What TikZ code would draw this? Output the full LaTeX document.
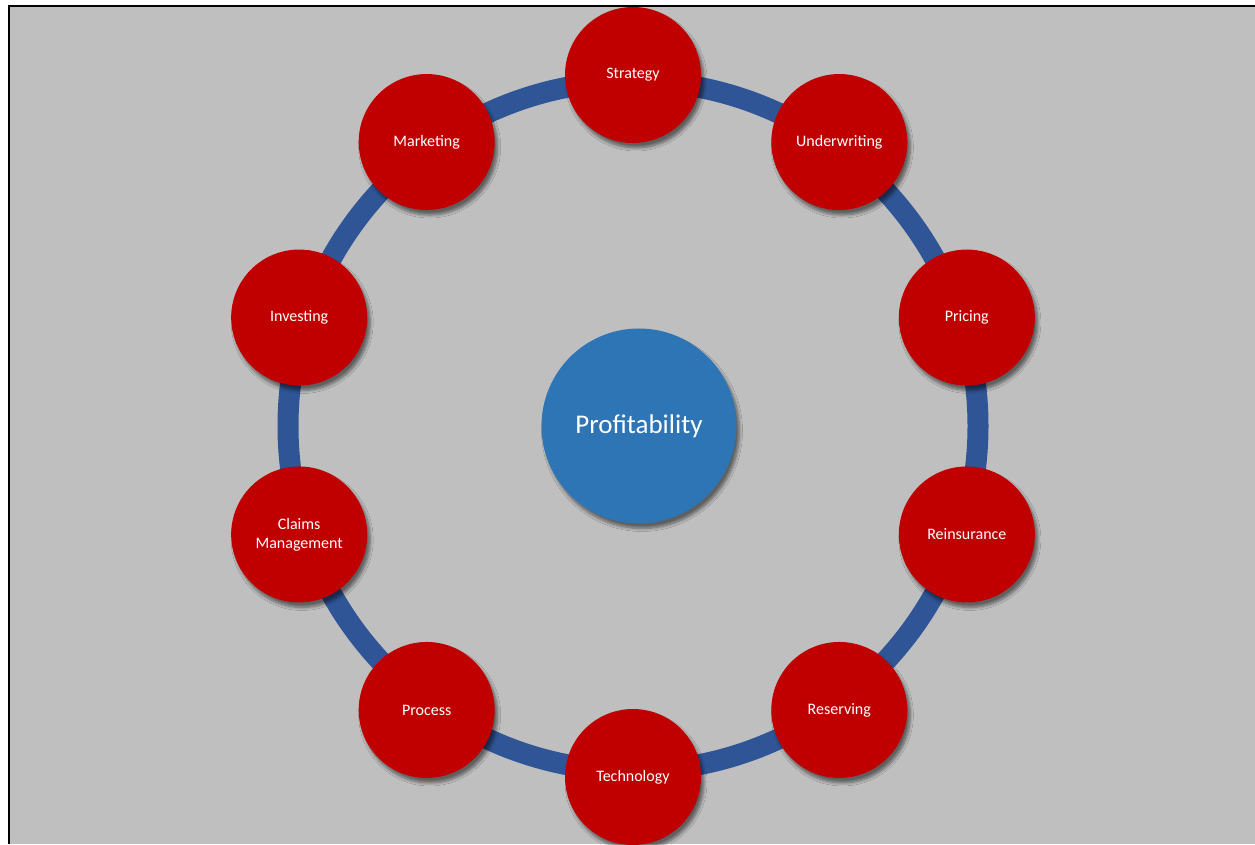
\documentclass[tikz,border=0pt]{standalone}
\usepackage{fontspec}
\setmainfont{Carlito}
\usetikzlibrary{calc,shadows.blur}
\definecolor{bggray}{HTML}{BFBFBF}
\definecolor{ringblue}{HTML}{2F5597}
\definecolor{hubblue}{HTML}{2E75B6}
\definecolor{nodered}{HTML}{C00000}
\tikzset{
  softshadow/.style={blur shadow={shadow xshift=3pt, shadow yshift=-5pt, shadow blur radius=3pt, shadow blur steps=6, shadow opacity=50}},
  topic/.style={circle, fill=nodered, minimum size=136pt, inner sep=0pt,
    text=white, font=\fontsize{16}{19}\selectfont, align=center, softshadow},
  hub/.style={circle, fill=hubblue, minimum size=195pt, inner sep=0pt,
    text=white, font=\fontsize{27}{32}\selectfont, softshadow},
  ring/.style={draw=ringblue, line width=21pt},
  frame/.style={draw=black, line width=2pt}
}
\begin{document}
\begin{tikzpicture}[x=1pt,y=1pt]
\useasboundingbox (0,0) rectangle (1255,844);
\fill[white] (0,0) rectangle (1255,844);
\fill[bggray] (9,0) rectangle (1255,838);
\draw[frame] (9,0) -- (9,838) -- (1255,838);
\coordinate (c) at (633,418);
\draw[ring] (c) circle[radius=345];
\node[hub] (hub) at (639,418) {Profitability};
\node[topic] (strategy)     at ($(c)+(90:351)$)   {Strategy};
\node[topic] (underwriting) at ($(c)+(54:351)$)   {Underwriting};
\node[topic] (pricing)      at ($(c)+(18:351)$)   {Pricing};
\node[topic] (reinsurance)  at ($(c)+(-18:351)$)  {Reinsurance};
\node[topic] (reserving)    at ($(c)+(-54:351)$)  {Reserving};
\node[topic] (technology)   at ($(c)+(-90:351)$)  {Technology};
\node[topic] (process)      at ($(c)+(-126:351)$) {Process};
\node[topic] (claims)       at ($(c)+(-162:351)$) {Claims\\Management};
\node[topic] (investing)    at ($(c)+(162:351)$)  {Investing};
\node[topic] (marketing)    at ($(c)+(126:351)$)  {Marketing};
\end{tikzpicture}
\end{document}
